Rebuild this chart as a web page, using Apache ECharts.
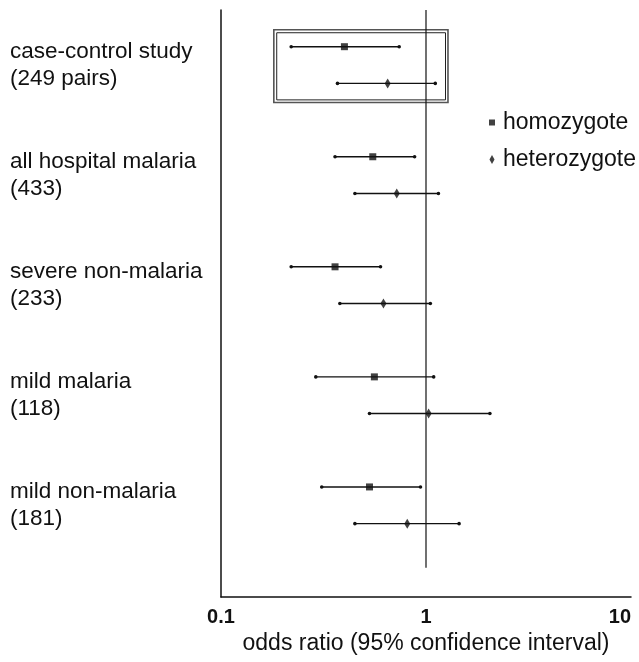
<!DOCTYPE html>
<html>
<head>
<meta charset="utf-8">
<script src="https://cdn.jsdelivr.net/npm/echarts@6/dist/echarts.min.js"></script>
<style>
html,body{margin:0;padding:0;background:#fff;}
#chart{width:639px;height:662px;}
</style>
</head>
<body>
<div id="chart"></div>
<script>
// ---- data ----
const categories = [
  'case-control study\n(249 pairs)',
  'all hospital malaria\n(433)',
  'severe non-malaria\n(233)',
  'mild malaria\n(118)',
  'mild non-malaria\n(181)'
];
const homoOR = [0.40, 0.55, 0.36, 0.56, 0.53];
const homoLo = [0.22, 0.36, 0.22, 0.29, 0.31];
const homoHi = [0.74, 0.88, 0.60, 1.09, 0.94];
const hetOR  = [0.65, 0.72, 0.62, 1.03, 0.81];
const hetLo  = [0.37, 0.45, 0.38, 0.53, 0.45];
const hetHi  = [1.11, 1.15, 1.05, 2.05, 1.45];
const xTicks = [0.1, 1, 10];
const seriesNames = ['homozygote', 'heterozygote'];
// highlighted box around the case-control study (data coords: OR, row)
const boxOuter = [[0.181, -0.46], [1.28, 1.52]];
const boxInner = [[0.187, -0.38], [1.245, 1.45]];
const refLine = [[1, -1], [1, 14.2]];

// ---- build ----
const FONT = 'Liberation Sans';
const rowOf = (i, k) => i * 3 + k;
const whiskers = [];
const homoPts = [], hetPts = [];
categories.forEach((c, i) => {
  whiskers.push([homoLo[i], homoHi[i], rowOf(i, 0)]);
  whiskers.push([hetLo[i], hetHi[i], rowOf(i, 1)]);
  homoPts.push([homoOR[i], rowOf(i, 0)]);
  hetPts.push([hetOR[i], rowOf(i, 1)]);
});

const chart = echarts.init(document.getElementById('chart'), null, {renderer: 'canvas'});
chart.setOption({
  animation: false,
  backgroundColor: '#fff',
  textStyle: {fontFamily: FONT},
  grid: {left: 221, right: 8, top: 10, bottom: 65},
  legend: {
    orient: 'vertical',
    left: 484, top: 106,
    itemGap: 14,
    itemWidth: 6, itemHeight: 9,
    textStyle: {fontFamily: FONT, fontSize: 23, color: '#111', lineHeight: 23, padding: [0, 0, 0, 3]},
    data: [
      {name: seriesNames[0], icon: 'path://M0,0h6v6h-6z'},
      {name: seriesNames[1], icon: 'path://M3,0L5.5,4.5L3,9L0.5,4.5Z'}
    ]
  },
  xAxis: {
    type: 'log', logBase: 10, min: 0.1, max: 10,
    name: 'odds ratio (95% confidence interval)',
    nameLocation: 'middle', nameGap: 31,
    nameTextStyle: {fontFamily: FONT, fontSize: 23, color: '#111'},
    axisLine: {show: true, onZero: false, lineStyle: {color: '#111', width: 1.5}},
    axisTick: {show: false},
    splitLine: {show: false},
    axisLabel: {
      fontFamily: FONT, fontSize: 20, fontWeight: 'bold', color: '#111', margin: 10,
      alignMaxLabel: 'right',
      formatter: v => (xTicks.some(t => Math.abs(t - v) < 1e-9) ? String(v) : '')
    }
  },
  yAxis: {
    type: 'value', inverse: true, min: -1, max: 15, interval: 0.5,
    axisLine: {show: true, onZero: false, lineStyle: {color: '#111', width: 1.5}},
    axisTick: {show: false},
    splitLine: {show: false},
    axisLabel: {
      align: 'left', margin: 211,
      fontFamily: FONT, fontSize: 22.5, color: '#111', lineHeight: 27,
      formatter: v => {
        const k = (v - 0.5) / 3;
        return (Number.isInteger(k) && k >= 0 && k < categories.length) ? categories[k] : '';
      }
    }
  },
  series: [
    {
      type: 'line', data: refLine, symbol: 'none', silent: true,
      lineStyle: {color: '#111', width: 1.2}, z: 1
    },
    {
      type: 'custom', data: whiskers, z: 2,
      renderItem: (params, api) => {
        const a = api.coord([api.value(0), api.value(2)]);
        const b = api.coord([api.value(1), api.value(2)]);
        return {
          type: 'group',
          children: [
            {type: 'line', shape: {x1: a[0], y1: a[1], x2: b[0], y2: b[1]}, style: {stroke: '#111', lineWidth: 1.4}},
            {type: 'circle', shape: {cx: a[0], cy: a[1], r: 1.8}, style: {fill: '#111'}},
            {type: 'circle', shape: {cx: b[0], cy: b[1], r: 1.8}, style: {fill: '#111'}}
          ]
        };
      },
      markArea: {
        silent: true,
        data: [
          [{coord: boxOuter[0], itemStyle: {color: 'rgba(0,0,0,0)', borderColor: '#555', borderWidth: 1.6}}, {coord: boxOuter[1]}],
          [{coord: boxInner[0], itemStyle: {color: 'rgba(0,0,0,0)', borderColor: '#222', borderWidth: 1}}, {coord: boxInner[1]}]
        ]
      }
    },
    {
      name: seriesNames[0], type: 'scatter', data: homoPts, z: 3,
      symbol: 'rect', symbolSize: [7, 7],
      itemStyle: {color: '#111'}
    },
    {
      name: seriesNames[1], type: 'scatter', data: hetPts, z: 3,
      symbol: 'diamond', symbolSize: [6, 10],
      itemStyle: {color: '#111'}
    }
  ]
});
</script>
</body>
</html>
